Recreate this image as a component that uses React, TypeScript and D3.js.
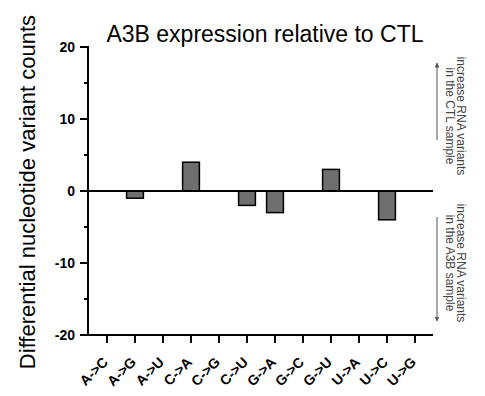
import React, { useEffect, useRef } from 'react';
import * as d3 from 'd3';

// substitution categories and the A3B - CTL differential counts
const categories = ['A->C', 'A->G', 'A->U', 'C->A', 'C->G', 'C->U', 'G->A', 'G->C', 'G->U', 'U->A', 'U->C', 'U->G'];
const diffCounts = [0, -1, 0, 4, 0, -2, -3, 0, 3, 0, -4, 0];
const majorTicks = [-20, -10, 0, 10, 20];
const minorTicks = [-15, -5, 5, 15];

const W = 485, H = 396;
const FONT = 'Arial, "Liberation Sans", Helvetica, sans-serif';

function App() {
  const ref = useRef<SVGSVGElement>(null);

  useEffect(() => {
    const svg = d3.select(ref.current);
    svg.selectAll('*').remove();

    const axisX = 88;
    const right = 433;
    const x = d3.scaleBand().domain(categories).range([93, 429]).paddingInner(0.4).paddingOuter(0.2);
    const y = d3.scaleLinear().domain([-20, 20]).range([335, 47]);
    const cx = (d: string) => x(d)! + x.bandwidth() / 2;

    // bars (zero values draw nothing)
    svg.selectAll('rect.bar')
      .data(categories.filter((d, i) => diffCounts[i] !== 0))
      .enter()
      .append('rect')
      .attr('class', 'bar')
      .attr('x', (d) => x(d)!)
      .attr('width', x.bandwidth())
      .attr('y', (d) => y(Math.max(0, diffCounts[categories.indexOf(d)])))
      .attr('height', (d) => Math.abs(y(diffCounts[categories.indexOf(d)]) - y(0)))
      .attr('fill', '#6f6f6f')
      .attr('stroke', '#000')
      .attr('stroke-width', 1.5);

    // zero line
    svg.append('line')
      .attr('x1', axisX).attr('x2', right)
      .attr('y1', y(0)).attr('y2', y(0))
      .attr('stroke', '#000').attr('stroke-width', 2);

    // y axis
    svg.append('line')
      .attr('x1', axisX).attr('x2', axisX)
      .attr('y1', y(20) - 1).attr('y2', y(-20) + 1)
      .attr('stroke', '#000').attr('stroke-width', 2);

    svg.selectAll('line.major')
      .data(majorTicks).enter().append('line')
      .attr('x1', axisX - 8).attr('x2', axisX)
      .attr('y1', (d) => y(d)).attr('y2', (d) => y(d))
      .attr('stroke', '#000').attr('stroke-width', 2);

    svg.selectAll('line.minor')
      .data(minorTicks).enter().append('line')
      .attr('x1', axisX - 4).attr('x2', axisX)
      .attr('y1', (d) => y(d)).attr('y2', (d) => y(d))
      .attr('stroke', '#000').attr('stroke-width', 2);

    svg.selectAll('text.ylab')
      .data(majorTicks).enter().append('text')
      .attr('x', axisX - 13)
      .attr('y', (d) => y(d))
      .attr('dy', '0.35em')
      .attr('text-anchor', 'end')
      .attr('font-family', FONT)
      .attr('font-weight', 'bold')
      .attr('font-size', 14)
      .text((d) => String(d));

    // x axis at bottom
    svg.append('line')
      .attr('x1', axisX).attr('x2', right)
      .attr('y1', y(-20)).attr('y2', y(-20))
      .attr('stroke', '#000').attr('stroke-width', 2);

    svg.selectAll('line.xtick')
      .data(categories).enter().append('line')
      .attr('x1', cx).attr('x2', cx)
      .attr('y1', y(-20)).attr('y2', y(-20) + 8)
      .attr('stroke', '#000').attr('stroke-width', 2);

    svg.selectAll('text.xlab')
      .data(categories).enter().append('text')
      .attr('transform', (d) => `translate(${cx(d) + 2},${y(-20) + 28}) rotate(-45)`)
      .attr('text-anchor', 'end')
      .attr('font-family', FONT)
      .attr('font-weight', 'bold')
      .attr('font-size', 14)
      .text((d) => d);

    // title
    svg.append('text')
      .attr('x', 265).attr('y', 42)
      .attr('text-anchor', 'middle')
      .attr('font-family', FONT)
      .attr('font-size', 23)
      .text('A3B expression relative to CTL');

    // y axis title
    svg.append('text')
      .attr('transform', `translate(35,192) rotate(-90)`)
      .attr('text-anchor', 'middle')
      .attr('font-family', FONT)
      .attr('font-size', 22)
      .text('Differential nucleotide variant counts');

    // side annotations
    const defs = svg.append('defs');
    defs.append('marker')
      .attr('id', 'ah')
      .attr('viewBox', '0 0 10 10')
      .attr('refX', 9).attr('refY', 5)
      .attr('markerWidth', 5).attr('markerHeight', 5)
      .attr('orient', 'auto')
      .append('path').attr('d', 'M0,0L10,5L0,10z').attr('fill', '#555');

    const notes = [
      { center: 116, lines: ['increase RNA variants', 'in the CTL sample'], a0: 140, a1: 63 },
      { center: 263, lines: ['increase RNA variants', 'in the A3B sample'], a0: 217, a1: 321 },
    ];
    notes.forEach((n) => {
      svg.append('line')
        .attr('x1', 437).attr('x2', 437)
        .attr('y1', n.a0).attr('y2', n.a1)
        .attr('stroke', '#555').attr('stroke-width', 1)
        .attr('marker-end', 'url(#ah)');
      n.lines.forEach((t, i) => {
        svg.append('text')
          .attr('transform', `translate(${457 - i * 11},${n.center}) rotate(90)`)
          .attr('text-anchor', 'middle')
          .attr('font-family', FONT)
          .attr('font-size', 12)
          .attr('fill', '#444')
          .text(t);
      });
    });
  }, []);

  return (
    <svg ref={ref} width={W} height={H} style={{ position: 'absolute', left: 0, top: 0, background: '#fff' }} />
  );
}

export default App;
